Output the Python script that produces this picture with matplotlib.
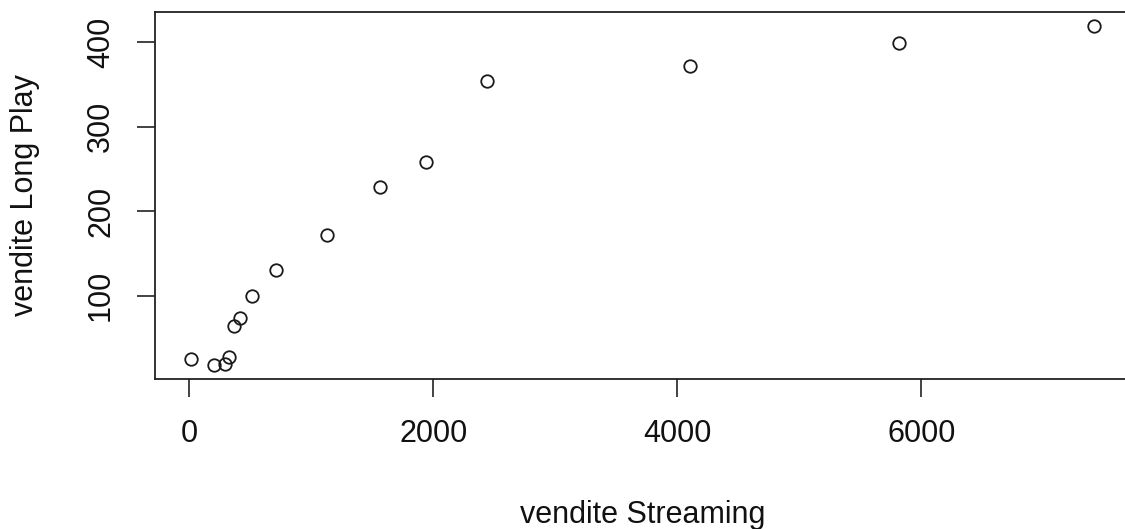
import matplotlib
matplotlib.use("Agg")
import matplotlib.pyplot as plt

# data
streaming = [14, 205, 290, 325, 369, 418, 516, 708, 1129, 1563, 1938, 2438, 4104, 5817, 7418]
long_play = [25.3, 17.7, 19.4, 27.6, 64.6, 74, 99.7, 130, 172, 228.8, 258.3, 354, 372, 398.5, 419.3]
x_ticks = [0, 2000, 4000, 6000]
y_ticks = [100, 200, 300, 400]
x_label = "vendite Streaming"
y_label = "vendite Long Play"

plt.rcParams['font.family'] = ['Liberation Sans', 'DejaVu Sans']

W, H = 1125, 529
fig = plt.figure(figsize=(W / 100, H / 100), dpi=100)
left, right, top, bottom = 154.9, 1130.4, 12.1, 379.0
ax = fig.add_axes([left / W, (H - bottom) / H, (right - left) / W, (bottom - top) / H])

ax.plot(streaming, long_play, linestyle='none', marker='o', mfc='none',
        mec='#1a1a1a', ms=9.0, mew=1.3)

xr = max(streaming) - min(streaming)
yr = max(long_play) - min(long_play)
ax.set_xlim(min(streaming) - 0.04 * xr, max(streaming) + 0.04 * xr)
ax.set_ylim(min(long_play) - 0.04 * yr, max(long_play) + 0.04 * yr)

ax.set_xticks(x_ticks)
ax.set_xticklabels([str(v) for v in x_ticks])
ax.set_yticks(y_ticks)
ax.set_yticklabels([str(v) for v in y_ticks], rotation=90, va='center')

ax.tick_params(axis='both', length=13, width=1.2, color='#222222', labelsize=22,
               labelcolor='#111111', direction='out')
ax.tick_params(axis='x', pad=16)
ax.tick_params(axis='y', pad=15)
for s in ax.spines.values():
    s.set_linewidth(1.3)
    s.set_color('#222222')

fig.text(642.6 / W, 6 / H, x_label, ha='center', va='baseline', fontsize=22,
         color='#111111')
fig.text(33 / W, (H - (top + bottom) / 2) / H, y_label, rotation=90,
         rotation_mode='anchor', ha='center', va='baseline', fontsize=22,
         color='#111111')

fig.savefig("out.png", dpi=100)
